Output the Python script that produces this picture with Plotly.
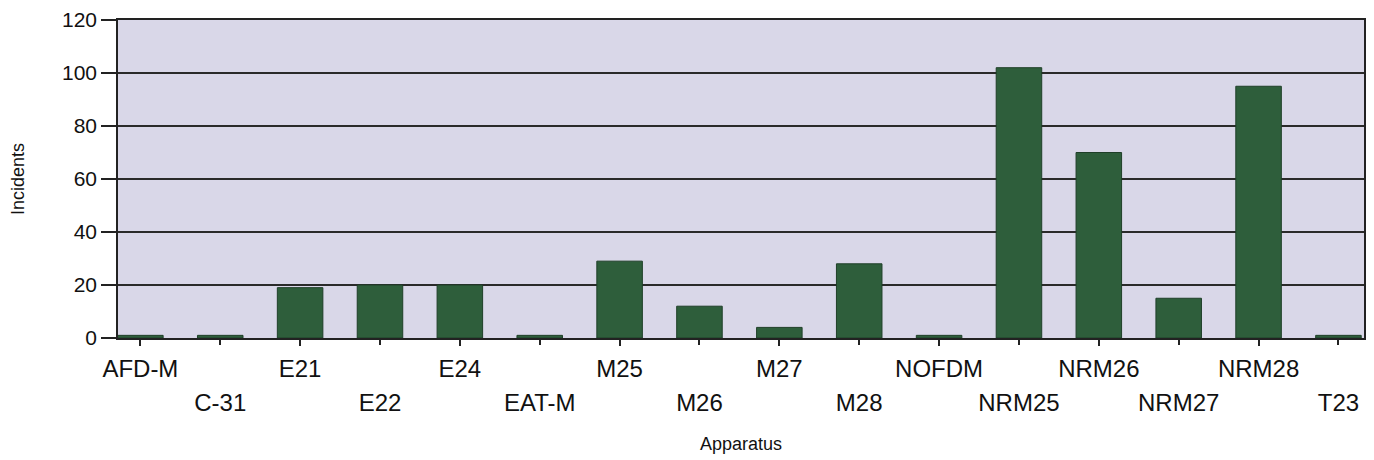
import plotly.graph_objects as go

categories = ["AFD-M", "C-31", "E21", "E22", "E24", "EAT-M", "M25", "M26",
              "M27", "M28", "NOFDM", "NRM25", "NRM26", "NRM27", "NRM28", "T23"]
incidents = [1, 1, 19, 20, 20, 1, 29, 12, 4, 28, 1, 102, 70, 15, 95, 1]
y_ticks = [0, 20, 40, 60, 80, 100, 120]

FONT = "Liberation Sans, Arial, sans-serif"
xrange = [-0.28, 15.32]

even_idx = list(range(0, len(categories), 2))
odd_idx = list(range(1, len(categories), 2))

fig = go.Figure()
fig.add_trace(go.Bar(
    x=categories, y=incidents,
    marker=dict(color="#2E5E3B", line=dict(color="#1f3f28", width=1)),
    width=0.57,
))
# invisible helper trace to bind second axis
fig.add_trace(go.Scatter(x=[0], y=[0], xaxis="x2", mode="markers",
                         marker=dict(opacity=0), hoverinfo="skip", showlegend=False))

fig.update_layout(
    width=1366, height=452,
    margin=dict(l=110, r=10, t=12, b=122),
    paper_bgcolor="white",
    plot_bgcolor="#D9D7E8",
    showlegend=False,
    font=dict(family=FONT, color="#111"),
    xaxis=dict(
        type="category",
        categoryorder="array", categoryarray=categories,
        range=xrange,
        tickmode="array",
        tickvals=[categories[i] for i in even_idx],
        ticktext=[categories[i] for i in even_idx],
        ticks="outside", ticklen=6, tickwidth=1.5, tickcolor="#222",
        tickfont=dict(size=24, family=FONT, color="#111"),
        ticklabelstandoff=2,
        ticklabeloverflow="allow",
        showline=True, linecolor="#222", linewidth=1.5, mirror=True,
        showgrid=False,
        automargin=False,
        title=dict(text="Apparatus", font=dict(size=18, family=FONT, color="#111"), standoff=57),
    ),
    xaxis2=dict(
        overlaying="x", anchor="y", side="bottom",
        range=xrange,
        tickmode="array",
        tickvals=odd_idx,
        ticktext=[categories[i] for i in odd_idx],
        ticks="outside", ticklen=6, tickwidth=1.5, tickcolor="#222",
        tickfont=dict(size=24, family=FONT, color="#111"),
        ticklabelstandoff=37,
        ticklabeloverflow="allow",
        showline=False, showgrid=False, zeroline=False,
        automargin=False,
    ),
    yaxis=dict(
        range=[0, 120],
        tickmode="array", tickvals=y_ticks,
        ticks="outside", ticklen=15, tickwidth=1.5, tickcolor="#222",
        tickfont=dict(size=21, family=FONT, color="#111"),
        ticklabeloverflow="allow",
        showgrid=True, gridcolor="#2a2a2a", gridwidth=1.5,
        zeroline=False,
        showline=True, linecolor="#222", linewidth=1.5, mirror=True,
        automargin=False,
        title=dict(text="Incidents", font=dict(size=18, family=FONT, color="#111"), standoff=34),
    ),
)

fig.write_html("out.html")
